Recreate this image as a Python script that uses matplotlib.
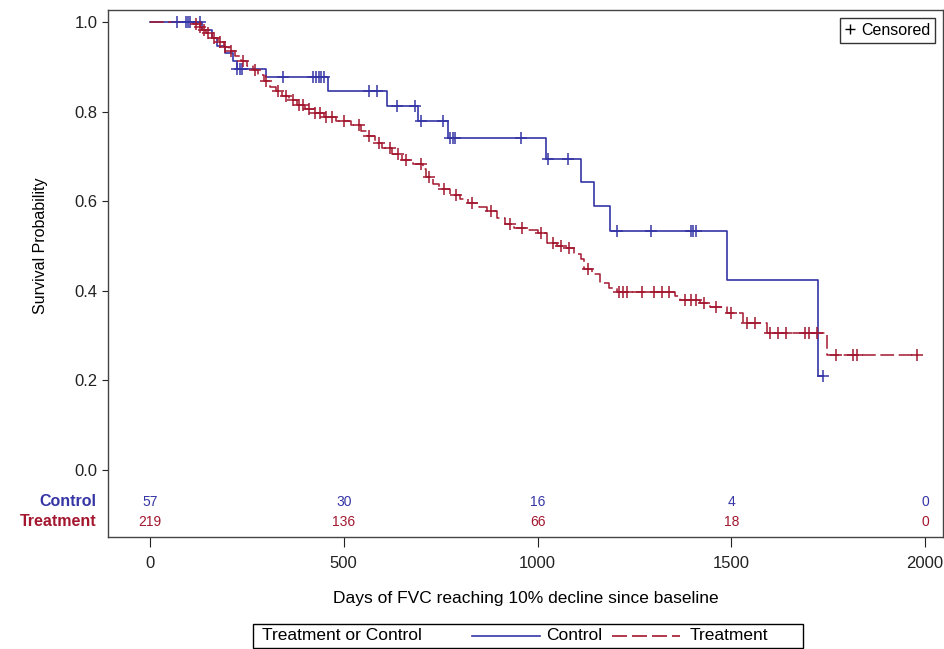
import matplotlib
matplotlib.use("Agg")
import matplotlib.pyplot as plt
import matplotlib.transforms as mtransforms
from matplotlib.lines import Line2D
from matplotlib.patches import Rectangle
import numpy as np

plt.rcParams['font.family'] = ['Liberation Sans', 'DejaVu Sans']

# Kaplan-Meier steps (day, survival after the event)
ctrl_days = [0, 134, 160, 173, 195, 214, 224, 300, 460, 611, 692, 769, 1022, 1112, 1146, 1187, 1489, 1724, 1737]
ctrl_surv = [1.0, 0.982, 0.965, 0.947, 0.930, 0.912, 0.895, 0.877, 0.846, 0.8125, 0.779, 0.741, 0.694,
             0.643, 0.589, 0.533, 0.424, 0.21, 0.21]
ctrl_cens = [70, 93, 98, 103, 129, 226, 232, 238, 343, 421, 428, 435, 442, 450, 565, 586, 637, 684,
             699, 757, 774, 781, 788, 957, 1027, 1079, 1205, 1293, 1395, 1402, 1409, 1737]

trt_days = [0, 110, 125, 135, 145, 160, 175, 190, 205, 220, 235, 250, 265, 280, 295, 310, 325, 340, 360,
            380, 400, 425, 450, 480, 520, 545, 560, 580, 600, 625, 650, 680, 705, 712, 730, 745, 775, 800,
            820, 850, 870, 895, 915, 940, 975, 1000, 1025, 1050, 1070, 1095, 1112, 1120, 1140, 1162, 1185,
            1205, 1355, 1368, 1420, 1445, 1488, 1530, 1592, 1747, 1979]
trt_surv = [1.0, 0.995, 0.99, 0.982, 0.975, 0.965, 0.955, 0.945, 0.935, 0.925, 0.912, 0.902, 0.893, 0.882,
            0.868, 0.855, 0.845, 0.835, 0.825, 0.815, 0.805, 0.797, 0.787, 0.779, 0.771, 0.757, 0.745, 0.73,
            0.718, 0.705, 0.693, 0.684, 0.672, 0.655, 0.638, 0.628, 0.614, 0.605, 0.597, 0.588, 0.578, 0.562,
            0.55, 0.541, 0.536, 0.529, 0.507, 0.500, 0.495, 0.483, 0.470, 0.448, 0.437, 0.418, 0.405, 0.397,
            0.388, 0.380, 0.373, 0.364, 0.350, 0.328, 0.306, 0.257, 0.257]
trt_cens = [120, 130, 140, 150, 165, 180, 195, 210, 240, 270, 300, 330, 350, 370, 385, 395, 410, 425, 440,
            455, 470, 500, 540, 565, 590, 620, 640, 660, 700, 720, 760, 790, 830, 880, 930, 960, 1010, 1040,
            1060, 1080, 1130, 1210, 1220, 1230, 1270, 1300, 1320, 1340, 1380, 1395, 1410, 1430, 1460, 1500,
            1540, 1560, 1600, 1620, 1640, 1690, 1700, 1720, 1771, 1815, 1825, 1979]

risk_times = [0, 500, 1000, 1500, 2000]
ctrl_risk = [57, 30, 16, 4, 0]
trt_risk = [219, 136, 66, 18, 0]

blue = '#3535a5'
red = '#a3172f'


def surv_at(days, surv, t):
    idx = np.searchsorted(days, t, side='right') - 1
    return np.array(surv)[idx]


fig = plt.figure(figsize=(9.45, 6.49), dpi=100)
ax = fig.add_axes([0.1143, 0.1726, 0.8836, 0.812])

ax.step(ctrl_days, ctrl_surv, where='post', color=blue, lw=1.2)
ax.step(trt_days, trt_surv, where='post', color=red, lw=1.1, dashes=(9, 3))
ax.plot(ctrl_cens, surv_at(ctrl_days, ctrl_surv, ctrl_cens), ls='none', marker='+', ms=9, mew=1.1, color=blue)
ax.plot(trt_cens, surv_at(trt_days, trt_surv, trt_cens), ls='none', marker='+', ms=9, mew=1.1, color=red)

ax.set_xlim(-108, 2046)
ax.set_ylim(-0.15, 1.027)
ax.set_yticks([0.0, 0.2, 0.4, 0.6, 0.8, 1.0])
ax.set_yticklabels(['0.0', '0.2', '0.4', '0.6', '0.8', '1.0'])
ax.set_xticks(risk_times)
ax.tick_params(axis='y', length=4, labelsize=12, colors='#222222')
ax.tick_params(axis='x', length=7, labelsize=12, colors='#222222', pad=7)
for s in ax.spines.values():
    s.set_color('#444444')
    s.set_linewidth(1.0)

# at-risk table
for t, c, r in zip(risk_times, ctrl_risk, trt_risk):
    ax.text(t, -0.071, str(c), color=blue, fontsize=10, ha='center', va='center')
    ax.text(t, -0.116, str(r), color=red, fontsize=10, ha='center', va='center')
tr = mtransforms.blended_transform_factory(ax.transAxes, ax.transData)
ax.text(-0.014, -0.071, 'Control', color=blue, fontsize=11.5, fontweight='bold', ha='right', va='center', transform=tr)
ax.text(-0.014, -0.116, 'Treatment', color=red, fontsize=11.5, fontweight='bold', ha='right', va='center', transform=tr)

ax.text(-0.081, 0.5, 'Survival Probability', rotation=90, fontsize=11.5, ha='center', va='center', transform=tr)
ax.set_xlabel('Days of FVC reaching 10% decline since baseline', fontsize=12.5, labelpad=14)

cens_handle = Line2D([], [], ls='none', marker='+', color='black', ms=7, mew=1)
leg = ax.legend([cens_handle], ['Censored'], loc='upper right', fontsize=11.5, frameon=True, fancybox=False,
                edgecolor='black', handlelength=0.6, handletextpad=0.4, borderpad=0.3, borderaxespad=0.5)
leg.get_frame().set_linewidth(1.0)

# bottom legend box
fig.add_artist(Rectangle((253 / 945, 1 - 648 / 649), 550 / 945, 24 / 649, transform=fig.transFigure,
                         fill=False, edgecolor='black', lw=1.0))
ly = 1 - 636 / 649
fig.text(262 / 945, ly, 'Treatment or Control', fontsize=12.5, ha='left', va='center')
fig.add_artist(Line2D([472 / 945, 540 / 945], [ly, ly], transform=fig.transFigure, color=blue, lw=1.2))
fig.text(546 / 945, ly, 'Control', fontsize=12.5, ha='left', va='center')
fig.add_artist(Line2D([612 / 945, 680 / 945], [ly, ly], transform=fig.transFigure, color=red, lw=1.2, dashes=(9, 3)))
fig.text(690 / 945, ly, 'Treatment', fontsize=12.5, ha='left', va='center')

fig.savefig('out.png', dpi=100)
